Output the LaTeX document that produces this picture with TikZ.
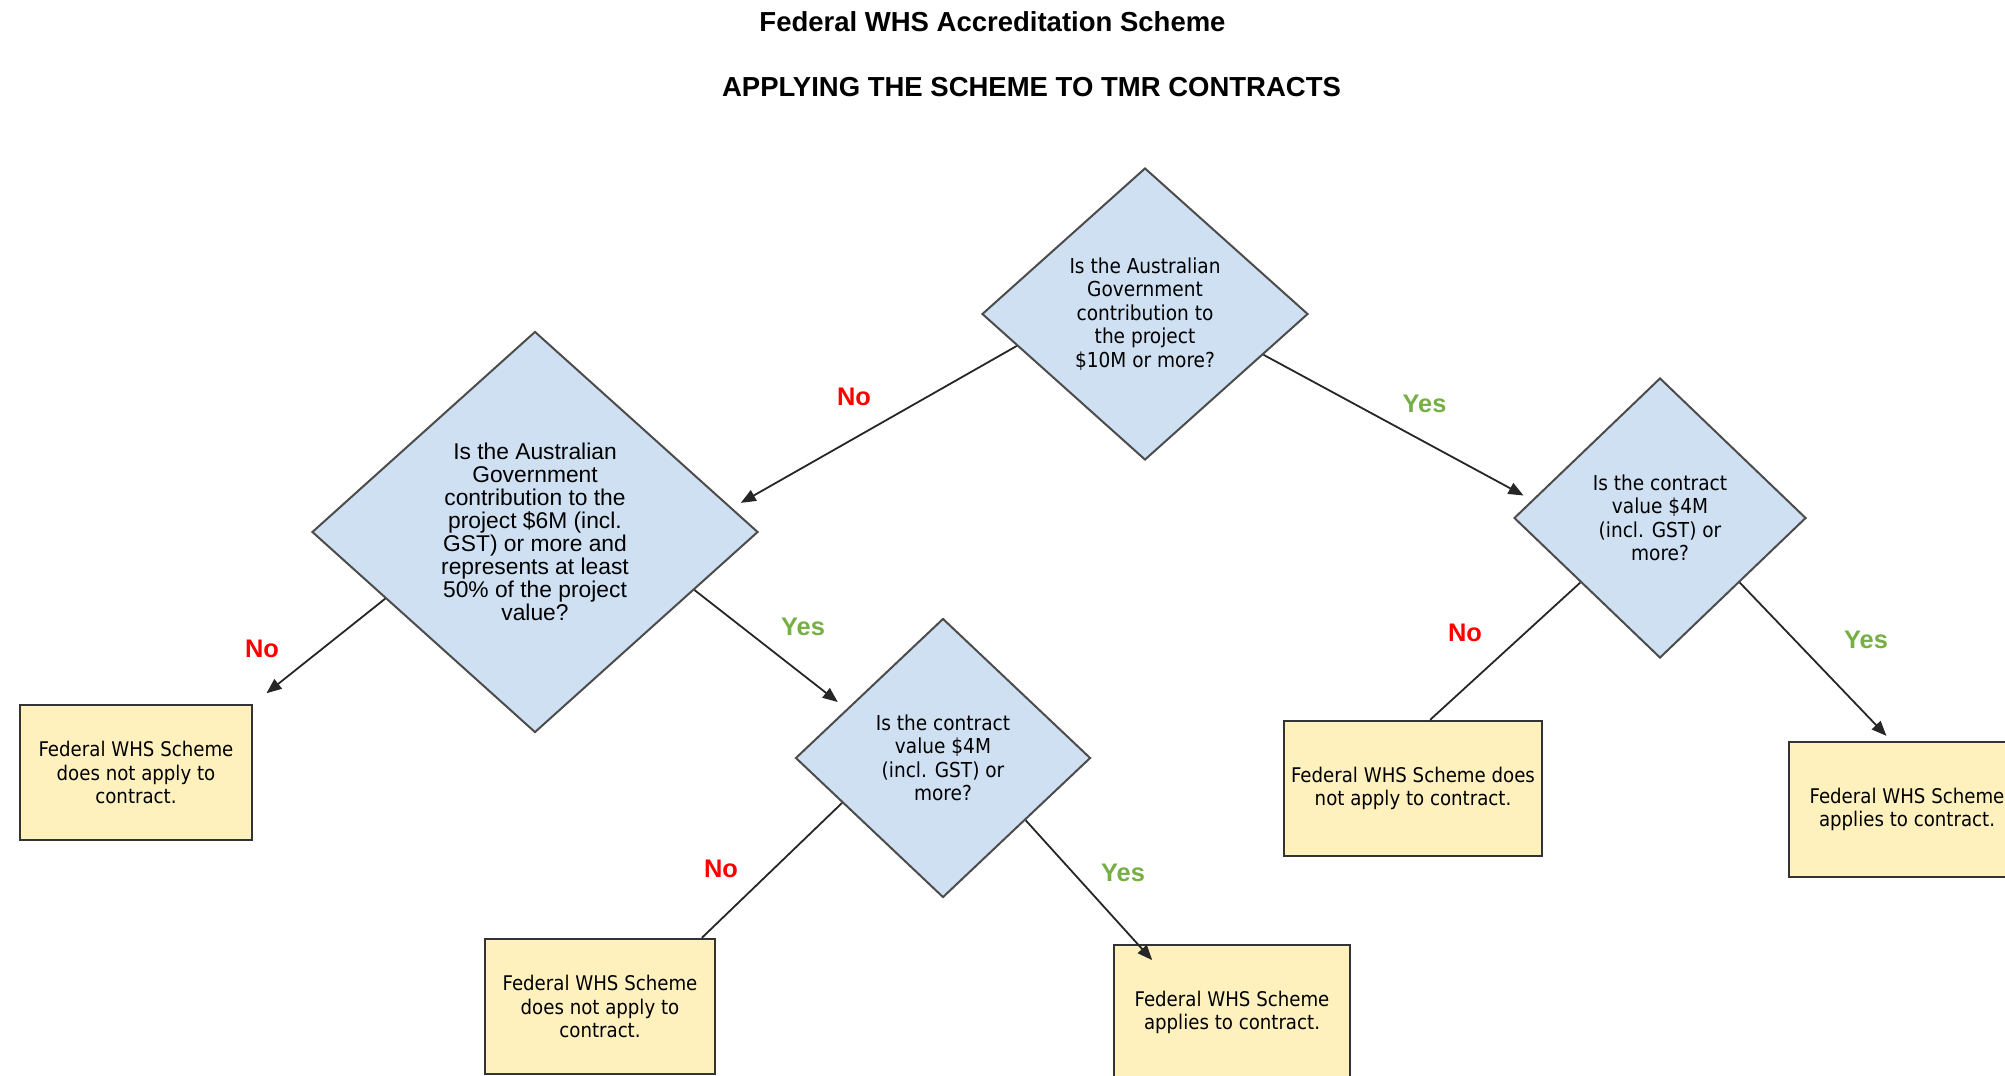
\documentclass[tikz,border=0pt]{standalone}
\usepackage{fontspec}
\setmainfont{Liberation Sans}
\newfontfamily\tahoma{DejaVu Sans Condensed}
\usetikzlibrary{shapes,arrows.meta}
\definecolor{qblue}{RGB}{206,224,242}
\definecolor{ryellow}{RGB}{255,241,190}
\definecolor{nored}{RGB}{255,0,0}
\definecolor{yesgreen}{RGB}{118,175,67}

\begin{document}
\begin{tikzpicture}[x=0.5pt,y=-0.5pt,
  question/.style={diamond,draw=black!70,line width=1pt,fill=qblue,inner sep=0pt,align=center,
    font=\tahoma\fontsize{10.3}{11.7}\selectfont},
  outcome/.style={rectangle,draw=black!80,line width=1.2pt,fill=ryellow,minimum height=67.5pt,
    inner sep=0pt,align=center,font=\tahoma\fontsize{10.1}{11.8}\selectfont},
  link/.style={draw=black!85,line width=0.9pt},
  arr/.style={link,-{Triangle[length=7.5pt,width=6pt]}},
  nolbl/.style={anchor=base,text=nored,font=\bfseries\fontsize{12.7}{14}\selectfont},
  yeslbl/.style={anchor=base,text=yesgreen,font=\bfseries\fontsize{12.7}{14}\selectfont}]
\useasboundingbox (0,0) rectangle (2005,1075);
\clip (0,0) rectangle (2005,1075);

% titles
\node[anchor=base,font=\bfseries\fontsize{13.75}{16}\selectfont] (title) at (992.5,32) {Federal WHS Accreditation Scheme};
\node[anchor=base,font=\bfseries\fontsize{13.75}{16}\selectfont] (subtitle) at (1031.5,97) {APPLYING THE SCHEME TO TMR CONTRACTS};

% questions
\node[question,minimum width=163pt,minimum height=146pt] (q1) at (1145,314)
  {Is the Australian\\Government\\contribution to\\the project\\\$10M or more?};
\node[question,minimum width=223pt,minimum height=200.5pt,font=\fontsize{11.4}{11.5}\selectfont] (q2) at (535,532)
  {Is the Australian\\Government\\contribution to the\\project \$6M (incl.\\GST) or more and\\represents at least\\50\% of the project\\value?};
\node[question,minimum width=146pt,minimum height=140pt] (q3) at (1660,518)
  {Is the contract\\value \$4M\\(incl. GST) or\\more?};
\node[question,minimum width=147.5pt,minimum height=139.5pt] (q4) at (943,758)
  {Is the contract\\value \$4M\\(incl. GST) or\\more?};

% outcomes
\node[outcome,minimum width=116pt] (n1) at (136,772.5) {Federal WHS Scheme\\does not apply to\\contract.};
\node[outcome,minimum width=115pt] (n2) at (600,1006.5) {Federal WHS Scheme\\does not apply to\\contract.};
\node[outcome,minimum width=118pt] (y1) at (1232,1012.5) {Federal WHS Scheme\\applies to contract.};
\node[outcome,minimum width=129pt] (n3) at (1413,788.5) {Federal WHS Scheme does\\not apply to contract.};
\node[outcome,minimum width=118pt] (y2) at (1907,809.5) {Federal WHS Scheme\\applies to contract.};

% connectors
\draw[arr,shorten >=5pt] (q1.194) -- (q2.7);
\draw[arr,shorten >=4.7pt] (q1.341) -- (q3.172);
\draw[arr,shorten >=8.5pt] (q2.204) -- (n1.north east);
\draw[arr,shorten >=5.5pt] (q2.340) -- (q4.153);
\draw[link] (q4.204) -- (n2.34);
\draw[arr,shorten >=-11pt] (q4.323) -- (y1.144);
\draw[arr,shorten >=3.4pt] (q3.321) -- (y2.103);
\draw[link] (q3.219) -- (n3.76);

% labels
\node[nolbl] (no1) at (854,405) {No};
\node[yeslbl] (yes1) at (1424.5,412) {Yes};
\node[nolbl] (no2) at (262,657) {No};
\node[yeslbl] (yes2) at (803,635.5) {Yes};
\node[nolbl] (no3) at (721,877) {No};
\node[yeslbl] (yes3) at (1123,881) {Yes};
\node[nolbl] (no4) at (1465,641) {No};
\node[yeslbl] (yes4) at (1866,648) {Yes};
\end{tikzpicture}
\end{document}
